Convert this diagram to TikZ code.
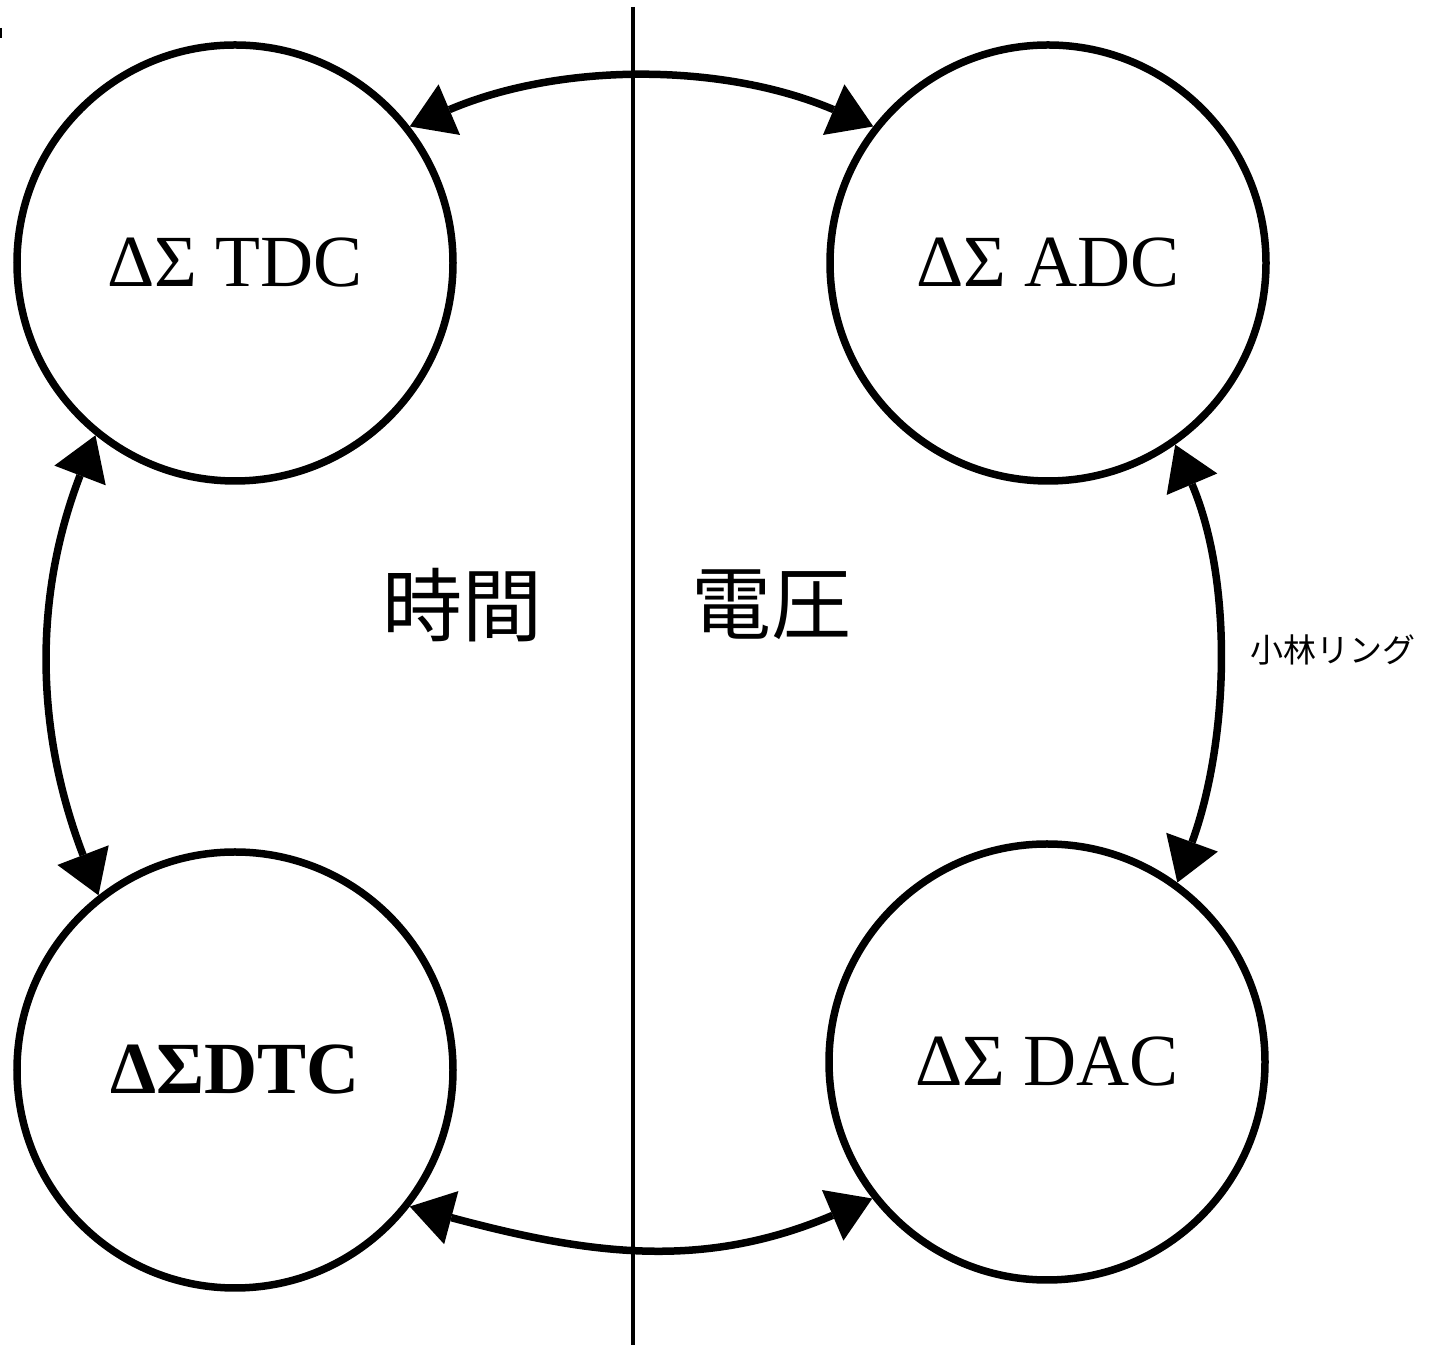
\documentclass[tikz,border=0pt]{standalone}
\usepackage{fontspec}
\setmainfont{Liberation Serif}
\newfontfamily\jafont{Noto Sans CJK JP}
\usetikzlibrary{arrows.meta}
\tikzset{
  conv/.style={circle, draw, line width=7.5pt, minimum size=436pt, inner sep=0pt,
    font=\fontsize{73.5}{80}\selectfont},
  tipx/.tip={Triangle[length=43pt,width=55pt,line width=0pt]},
  link/.style={line width=7.5pt, tipx-tipx},
  bigja/.style={inner sep=0pt, font=\jafont\fontsize{80}{90}\selectfont},
  smallja/.style={inner sep=0pt, font=\jafont\fontsize{33}{40}\selectfont},
}
\begin{document}
\begin{tikzpicture}[x=1pt,y=1pt]
\useasboundingbox (0,0) rectangle (1432,1354);
% divider
\coordinate (vt) at (633,1347);
\coordinate (vb) at (633,9);
\draw[line width=4pt] (vt) -- (vb);
% small mark at top-left
\coordinate (m1) at (1,1326);
\coordinate (m2) at (1,1316);
\draw[line width=2pt] (m1) -- (m2);
% circles
\node[conv] (tdc) at (235,1091) {ΔΣ TDC};
\node[conv] (adc) at (1048,1091) {ΔΣ ADC};
\node[conv] (dtc) at (235,284) {\bfseries ΔΣDTC};
\node[conv] (dac) at (1047,292) {ΔΣ DAC};
% connectors
\draw[link] (tdc.38.5) to[out=23,in=157,distance=164pt] (adc.142);
\draw[link] (dtc.-38) to[out=-15,in=-157,distance=185pt] (dac.218);
\draw[link] (tdc.231.5) to[out=-111,in=111,distance=175pt] (dtc.128.5);
\draw[link] (adc.-55) to[out=-67,in=70,distance=150pt] (dac.54);
% labels
\node[bigja] (jikan) at (462,749) {時間};
\node[bigja] (denatsu) at (771,749) {電圧};
\node[smallja] (ring) at (1333,704) {小林リング};
\end{tikzpicture}
\end{document}
